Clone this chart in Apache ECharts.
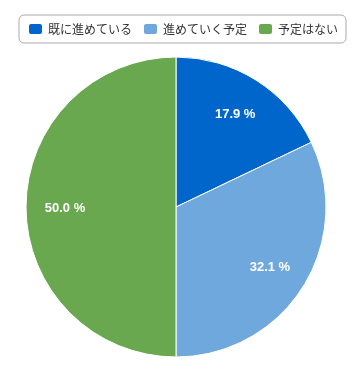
<!DOCTYPE html>
<html>
<head>
<meta charset="utf-8">
<script src="https://cdn.jsdelivr.net/npm/echarts@6/dist/echarts.min.js"></script>
<style>
  html, body { margin: 0; padding: 0; background: #fff; }
  #main { width: 354px; height: 365px; }
</style>
</head>
<body>
<div id="main"></div>
<script>
var categories = ['既に進めている', '進めていく予定', '予定はない'];
var values = [17.9, 32.1, 50.0];
var colors = ['#0066cc', '#6fa8dc', '#6aa84f'];

var pieData = categories.map(function (name, i) {
    return { name: name, value: values[i], itemStyle: { color: colors[i] } };
});

var chart = echarts.init(document.getElementById('main'));
chart.setOption({
    animation: false,
    legend: {
        data: categories,
        top: 15,
        left: 19,
        itemWidth: 15,
        itemHeight: 12,
        itemGap: 10,
        padding: [7, 8],
        borderColor: '#aaa',
        borderWidth: 1,
        borderRadius: 5,
        icon: 'roundRect',
        textStyle: { color: '#333', fontSize: 12, fontFamily: 'Noto Sans CJK JP' }
    },
    series: [
        {
            type: 'pie',
            center: [176, 207],
            radius: [0, 150],
            startAngle: 90,
            clockwise: true,
            label: { show: false },
            labelLine: { show: false },
            itemStyle: { borderColor: '#fff', borderWidth: 1 },
            data: pieData
        },
        {
            type: 'pie',
            center: [176, 208],
            radius: [66, 150],
            startAngle: 90,
            clockwise: true,
            silent: true,
            legendHoverLink: false,
            itemStyle: { color: 'transparent', borderWidth: 0 },
            label: {
                show: true,
                position: 'inside',
                color: '#fff',
                fontWeight: 'bold',
                fontSize: 13,
                fontFamily: 'Liberation Sans',
                formatter: function (p) { return p.value.toFixed(1) + ' %'; }
            },
            labelLine: { show: false },
            data: categories.map(function (name, i) { return { name: name, value: values[i] }; })
        }
    ]
});
</script>
</body>
</html>
